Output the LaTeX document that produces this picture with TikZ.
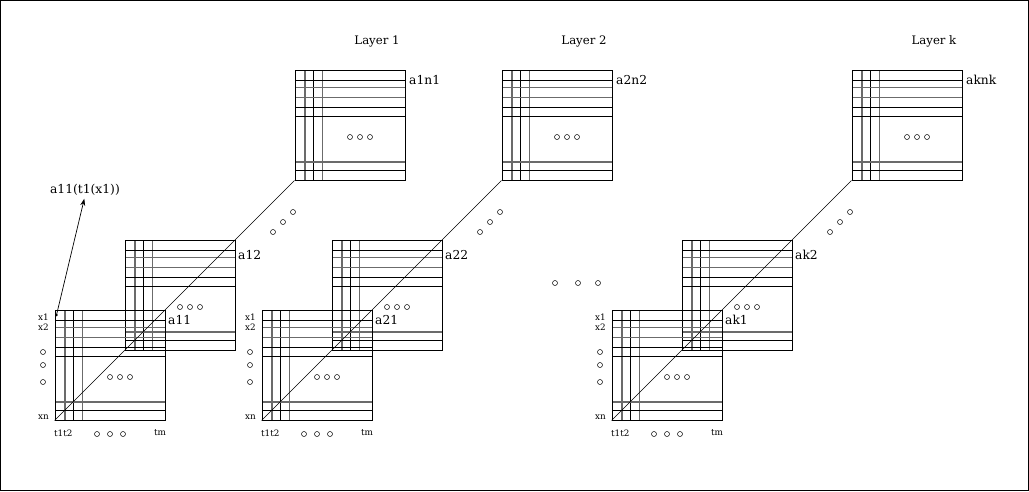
\documentclass[tikz,border=0pt]{standalone}
\usepackage{fontspec}
\setmainfont{DejaVu Serif}
\usetikzlibrary{arrows.meta}
\tikzset{
  matbox/.style={draw, line width=0.9pt, minimum size=110pt, inner sep=0pt},
  gline/.style={line width=1.5pt, black!58},
  bline/.style={line width=0.9pt, black},
  odot/.style={draw, circle, minimum size=5pt, inner sep=0pt, line width=0.5pt},
  lab/.style={font=\fontsize{12.3}{14}\selectfont, inner sep=0pt},
  lay/.style={font=\fontsize{11.7}{14}\selectfont, inner sep=0pt},
  sml/.style={font=\fontsize{8.8}{10}\selectfont, inner sep=0pt},
  mat/.pic={
    \foreach \v/\s in {10/gline,18.5/bline,27.5/gline} \draw[\s] (\v,0) -- (\v,110);
    \foreach \h/\s in {10/bline,17.5/gline,27.5/gline,37.5/bline,46.5/bline,92/gline,100.5/bline} \draw[\s] (0,\h) -- (110,\h);
    \node[matbox] (-box) at (55,55) {};
    \foreach \d [count=\i] in {0,10,20} \node[odot] (-d\i) at (55+\d,67) {};
  }
}
\begin{document}
\begin{tikzpicture}[x=1pt,y=-1pt]
\useasboundingbox (0,0) rectangle (1029,491);
\draw[line width=1pt] (0.5,0.5) rectangle (1028.5,490.5);
\foreach \L/\ox/\la/\lb/\lc/\ly in {1/0/a11/a12/a1n1/{Layer 1},2/207/a21/a22/a2n2/{Layer 2},k/557/ak1/ak2/aknk/{Layer k}} {
  \begin{scope}[xshift=\ox pt]
    \pic (m\L n) at (295,70) {mat};
    \pic (m\L b) at (125,240) {mat};
    \pic (m\L a) at (55,310) {mat};
    \draw[line width=0.5pt] (m\L a-box.south west) -- (m\L n-box.south west);
    \node[odot] (g\L1) at (273,232) {};
    \node[odot] (g\L2) at (283,222) {};
    \node[odot] (g\L3) at (293,212) {};
    \node[lab, anchor=west] (la\L) at (168,320) {\la};
    \node[lab, anchor=west] (lb\L) at (238,255) {\lb};
    \node[lab, anchor=west] (lc\L) at (409,80) {\lc};
    \node[lay] (ly\L) at (377,41) {\ly};
    \node[sml, anchor=east] (x1\L) at (49,317) {x1};
    \node[sml, anchor=east] (x2\L) at (49,327) {x2};
    \node[odot] (xd1\L) at (43,352) {};
    \node[odot] (xd2\L) at (43,365) {};
    \node[odot] (xd3\L) at (43,382) {};
    \node[sml, anchor=east] (xn\L) at (49,417) {xn};
    \node[sml, anchor=west] (tt\L) at (54,433) {t1t2};
    \node[odot] (td1\L) at (97,434) {};
    \node[odot] (td2\L) at (110,434) {};
    \node[odot] (td3\L) at (123,434) {};
    \node[sml] (tm\L) at (160,433) {tm};
  \end{scope}
}
\node[odot] (md1) at (555,283) {};
\node[odot] (md2) at (578,283) {};
\node[odot] (md3) at (598,283) {};
\coordinate (st) at (56.5,315);
\fill (st) circle (1.3pt);
\node[lab] (ann) at (85,190) {a11(t1(x1))};
\draw[line width=0.7pt, -{Stealth[length=7pt,width=5pt]}, shorten >=3pt] (st) -- (ann.south);
\end{tikzpicture}
\end{document}
